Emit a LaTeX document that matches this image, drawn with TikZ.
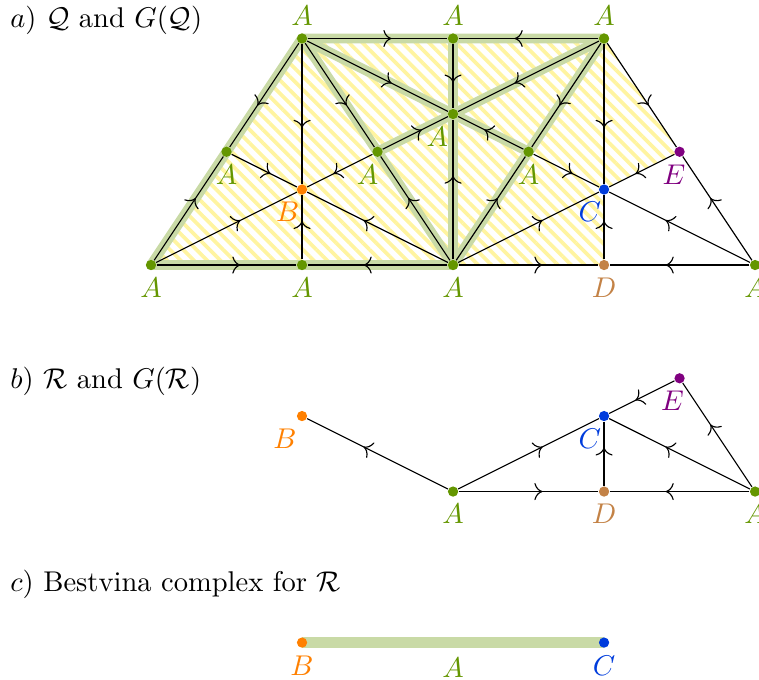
\documentclass[tikz,border=0pt]{standalone}
\usetikzlibrary{positioning, arrows.meta, decorations.markings, patterns.meta, backgrounds}

\definecolor{colA}{RGB}{100,150,0}
\definecolor{colB}{RGB}{255,128,0}
\definecolor{colC}{RGB}{0,60,220}
\definecolor{colD}{RGB}{195,130,70}
\definecolor{colE}{RGB}{128,0,128}
\definecolor{hatchcol}{RGB}{255,244,160}

\begin{document}
\begin{tikzpicture}[
      x=1.86cm, y=1.86cm, label distance=-1pt,
      dot/.style={circle, inner sep=0pt, minimum size=3.6pt},
      vA/.style={dot, fill=colA, label={[colA]#1:$A$}},
      line/.style={draw, postaction={decorate}, decoration={markings,
      mark=at position 0.6 with {\arrow{To[scale=1.15]}}}},
      glink/.style={draw=colA!35, line width=3.5pt, line cap=round, line join=round},
      hatch/.style={pattern={Lines[angle=-45, distance=3.3pt, line width=1.3pt]},
      pattern color=hatchcol},
      title/.style={anchor=base west, inner sep=0pt}
    ]
    \clip (-1,-2.742) rectangle (4.026,1.755);

    % Titles
    \node [title] (ta) at (-0.935,1.575) {$a)$ $\mathcal{Q}$ and $G(\mathcal{Q})$};
    \node [title] (tb) at (-0.935,-0.815) {$b)$ $\mathcal{R}$ and $G(\mathcal{R})$};
    \node [title] (tc) at (-0.935,-2.16) {$c)$ Bestvina complex for $\mathcal{R}$};

    % Nodes of Q
    \node [vA=below] (v1) at (0,0) {};
    \node [vA=above] (v2) at (1,1.5) {};
    \node [vA=below] (v3) at (2,0) {};
    \node [vA=above] (v4) at (3,1.5) {};
    \node [vA=below] (v5) at (4,0) {};
    \node [vA=below] (m12) at (0.5,0.75) {};
    \node [dot, fill=colA, label={[colA, xshift=-3.5pt]below:$A$}] (m23) at (1.5,0.75) {};
    \node [vA=below] (m13) at (1,0) {};
    \node [vA=above] (m24) at (2,1.5) {};
    \node [vA=below] (m34) at (2.5,0.75) {};
    \node [dot, fill=colE, label={[colE, xshift=-2pt]below:$E$}] (e) at (3.5,0.75) {};
    \node [dot, fill=colD, label={[colD]below:$D$}] (d) at (3,0) {};
    \node [dot, fill=colB, label={[colB, xshift=-5pt]below:$B$}] (b) at (1,0.5) {};
    \node [dot, fill=colA, label={[colA, xshift=-5.5pt]below:$A$}] (z) at (2,1) {};
    \node [dot, fill=colC, label={[colC, xshift=-5pt]below:$C$}] (c) at (3,0.5) {};

    % Nodes of R
    \node [dot, fill=colB, label={[colB, xshift=-6pt]below:$B$}] (rB) at (1,-1) {};
    \node [vA=below] (rA1) at (2,-1.5) {};
    \node [dot, fill=colD, label={[colD]below:$D$}] (rD) at (3,-1.5) {};
    \node [vA=below] (rA2) at (4,-1.5) {};
    \node [dot, fill=colC, label={[colC, xshift=-5pt]below:$C$}] (rC) at (3,-1) {};
    \node [dot, fill=colE, label={[colE, xshift=-2.5pt]below:$E$}] (rE) at (3.5,-0.75) {};

    % Bestvina complex
    \node [dot, fill=colB, label={[colB]below:$B$}] (sB) at (1,-2.5) {};
    \node [dot, fill=colC, label={[colC]below:$C$}] (sC) at (3,-2.5) {};

    \begin{scope}[on background layer]
    % Hatched part of Q
    \path [hatch] (v1.center) -- (v2.center) -- (v4.center) -- (e.center)
      -- (c.center) -- (d.center) -- cycle;

    % G(Q)
    \path [glink] (v1.center) -- (m12.center) -- (v2.center) -- (m24.center) -- (v4.center);
    \path [glink] (v1.center) -- (m13.center) -- (v3.center);
    \path [glink] (v2.center) -- (m23.center) -- (v3.center) -- (m34.center) -- (v4.center);
    \path [glink] (v2.center) -- (z.center) -- (v4.center);
    \path [glink] (m24.center) -- (z.center) -- (v3.center);
    \path [glink] (m23.center) -- (z.center) -- (m34.center);
    \path [glink, line width=4pt, line cap=butt] (sB.center) -- (sC.center)
      node [midway, below, colA] (sA) {$A$};

    % Paths of Q
    \path [line] (v1) -- (m12);
    \path [line] (v2) -- (m12);
    \path [line] (v2) -- (m23);
    \path [line] (v3) -- (m23);
    \path [line] (v1) -- (m13);
    \path [line] (v3) -- (m13);
    \path [line] (v1) -- (b);
    \path [line] (v2) -- (b);
    \path [line] (v3) -- (b);
    \path [line] (m12) -- (b);
    \path [line] (m23) -- (b);
    \path [line] (m13) -- (b);
    \path [line] (v2) -- (m24);
    \path [line] (v4) -- (m24);
    \path [line] (v4) -- (m34);
    \path [line] (v3) -- (m34);
    \path [line] (v2) -- (z);
    \path [line] (v4) -- (z);
    \path [line] (v3) -- (z);
    \path [line] (m24) -- (z);
    \path [line] (m34) -- (z);
    \path [line] (m23) -- (z);
    \path [line] (v4) -- (e);
    \path [line] (v5) -- (e);
    \path [line] (v3) -- (d);
    \path [line] (v5) -- (d);
    \path [line] (v3) -- (c);
    \path [line] (v4) -- (c);
    \path [line] (v5) -- (c);
    \path [line] (m34) -- (c);
    \path [line] (e) -- (c);
    \path [line] (d) -- (c);

    % Paths of R
    \path [line] (rA1) -- (rB);
    \path [line] (rA1) -- (rC);
    \path [line] (rA1) -- (rD);
    \path [line] (rD) -- (rC);
    \path [line] (rA2) -- (rD);
    \path [line] (rA2) -- (rC);
    \path [line] (rA2) -- (rE);
    \path [line] (rE) -- (rC);
    \end{scope}
  \end{tikzpicture}
\end{document}
